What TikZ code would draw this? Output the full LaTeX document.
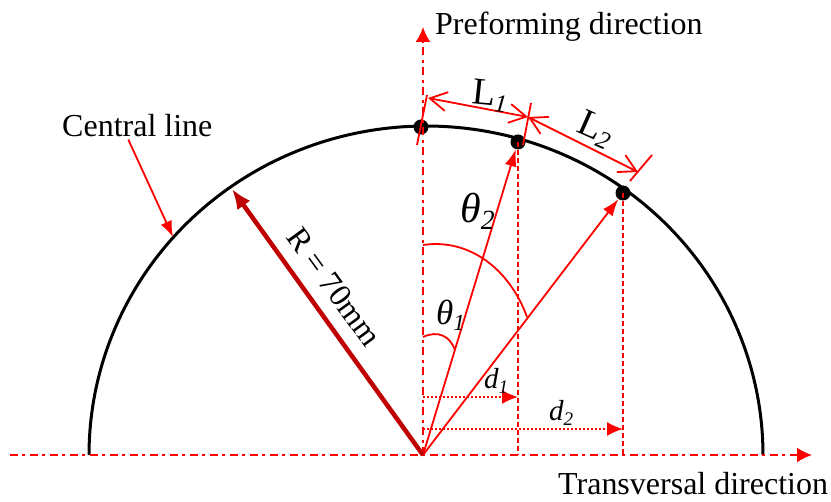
\documentclass[tikz,border=0pt]{standalone}
\usepackage{fontspec}
\setmainfont{Liberation Serif}
\usetikzlibrary{arrows.meta}
\definecolor{rred}{RGB}{255,0,0}
\definecolor{dred}{RGB}{192,0,0}
\newcommand{\sbit}[1]{\raisebox{-0.15em}{\fontsize{0.66em}{1em}\selectfont\textit{#1}}}
\begin{document}
\begin{tikzpicture}[x=1pt,y=-1pt,
  redl/.style={draw=rred, line width=1.8pt},
  axisl/.style={draw=rred, line width=1.8pt, dash pattern=on 8pt off 4pt on 3pt off 5pt, -{Latex[length=15pt,width=15pt]}},
  vdash/.style={draw=rred, line width=1.4pt, dash pattern=on 5pt off 3pt},
  dotl/.style={draw=rred, line width=1.8pt, dash pattern=on 2pt off 2pt, -{Latex[length=16pt,width=14pt]}},
  radarr/.style={redl, -{Latex[length=17pt,width=12pt]}},
  dimarr/.style={redl, {Straight Barb[length=17pt,width=19pt]}-{Straight Barb[length=17pt,width=19pt]}},
  dotpt/.style={circle, fill=black, inner sep=0pt, minimum size=15pt},
  lbl/.style={font=\fontsize{32}{38}\selectfont, inner sep=0pt},
]
\useasboundingbox (0,0) rectangle (831,502);

% central arc
\draw[black, line width=3pt] plot[domain=0:180, samples=120, smooth] ({426+337*cos(\x)}, {455-329*sin(\x)});

% centre and points
\coordinate (O) at (423,455);
\node[dotpt] (P0) at (421,127) {};
\node[dotpt] (P1) at (518,142) {};
\node[dotpt] (P2) at (623,193) {};

% axes
\coordinate (xs) at (10,455);
\coordinate (xe) at (812,455);
\coordinate (ye) at (423,27);
\draw[axisl] (xs) -- (xe);
\draw[axisl] (O) -- (ye);

% vertical dashed projections
\draw[vdash] (P1.center) -- (P1.center |- O);
\draw[vdash] (P2.center) -- (P2.center |- O);

% d arrows
\coordinate (d1s) at (423,397);
\coordinate (d2s) at (423,429);
\draw[dotl] (d1s) -- (d1s -| P1.center);
\draw[dotl] (d2s) -- (d2s -| P2.center);
\node[lbl, font=\fontsize{29}{32}\selectfont\itshape, anchor=base west] (d1) at (484,389) {d\sbit{1}};
\node[lbl, font=\fontsize{29}{32}\selectfont\itshape, anchor=base west] (d2) at (549,421) {d\sbit{2}};

% radial arrows
\draw[radarr] (O) -- (P1);
\draw[radarr] (O) -- (P2);

% angle arcs
\draw[redl] (423,337) .. controls (438,330) and (450,336) .. (455,350);
\draw[redl] (423,245) .. controls (470,238) and (510,270) .. (527,317);
\node[lbl, font=\fontsize{35}{38}\selectfont\itshape, anchor=base west] (th1) at (436,325) {θ\sbit{1}};
\node[lbl, font=\fontsize{42}{46}\selectfont\itshape, anchor=base west] (th2) at (460,223) {θ\sbit{2}};

% dimension ticks
\coordinate (t0a) at (417,145); \coordinate (t0b) at (427,95);
\coordinate (t1a) at (523,145); \coordinate (t1b) at (531,103);
\coordinate (t2a) at (630,181); \coordinate (t2b) at (652,155);
\draw[redl] (t0a) -- (t0b);
\draw[redl] (t1a) -- (t1b);
\draw[redl] (t2a) -- (t2b);
\coordinate (L1a) at (428,98);
\coordinate (L1b) at (528,117);
\coordinate (L2b) at (638,172);
\draw[dimarr] (L1a) -- (L1b);
\draw[dimarr] (L1b) -- (L2b);
\node[lbl, font=\fontsize{38}{42}\selectfont, rotate=-6, anchor=base west] (L1) at (471,103) {L\sbit{1}};
\node[lbl, font=\fontsize{38}{42}\selectfont, rotate=-24, anchor=base west] (L2) at (575,131) {L\sbit{2}};

% radius
\coordinate (Rt) at (232,189);
\draw[draw=dred, line width=4.5pt, -{Latex[length=20pt,width=16pt]}, dred] (O) -- (Rt);
\node[lbl, rotate=-54] (R) at (334,287) {R = 70mm};

% labels
\node[lbl, anchor=base west] (CL) at (62,137) {Central line};
\coordinate (clt) at (173,237);
\draw[redl, -{Latex[length=16pt,width=12pt]}] ([xshift=-9pt,yshift=-2pt]CL.south) -- (clt);
\node[lbl, anchor=base west] (PD) at (435,35) {Preforming direction};
\node[lbl, anchor=base west] (TD) at (558,495) {Transversal direction};
\end{tikzpicture}
\end{document}
